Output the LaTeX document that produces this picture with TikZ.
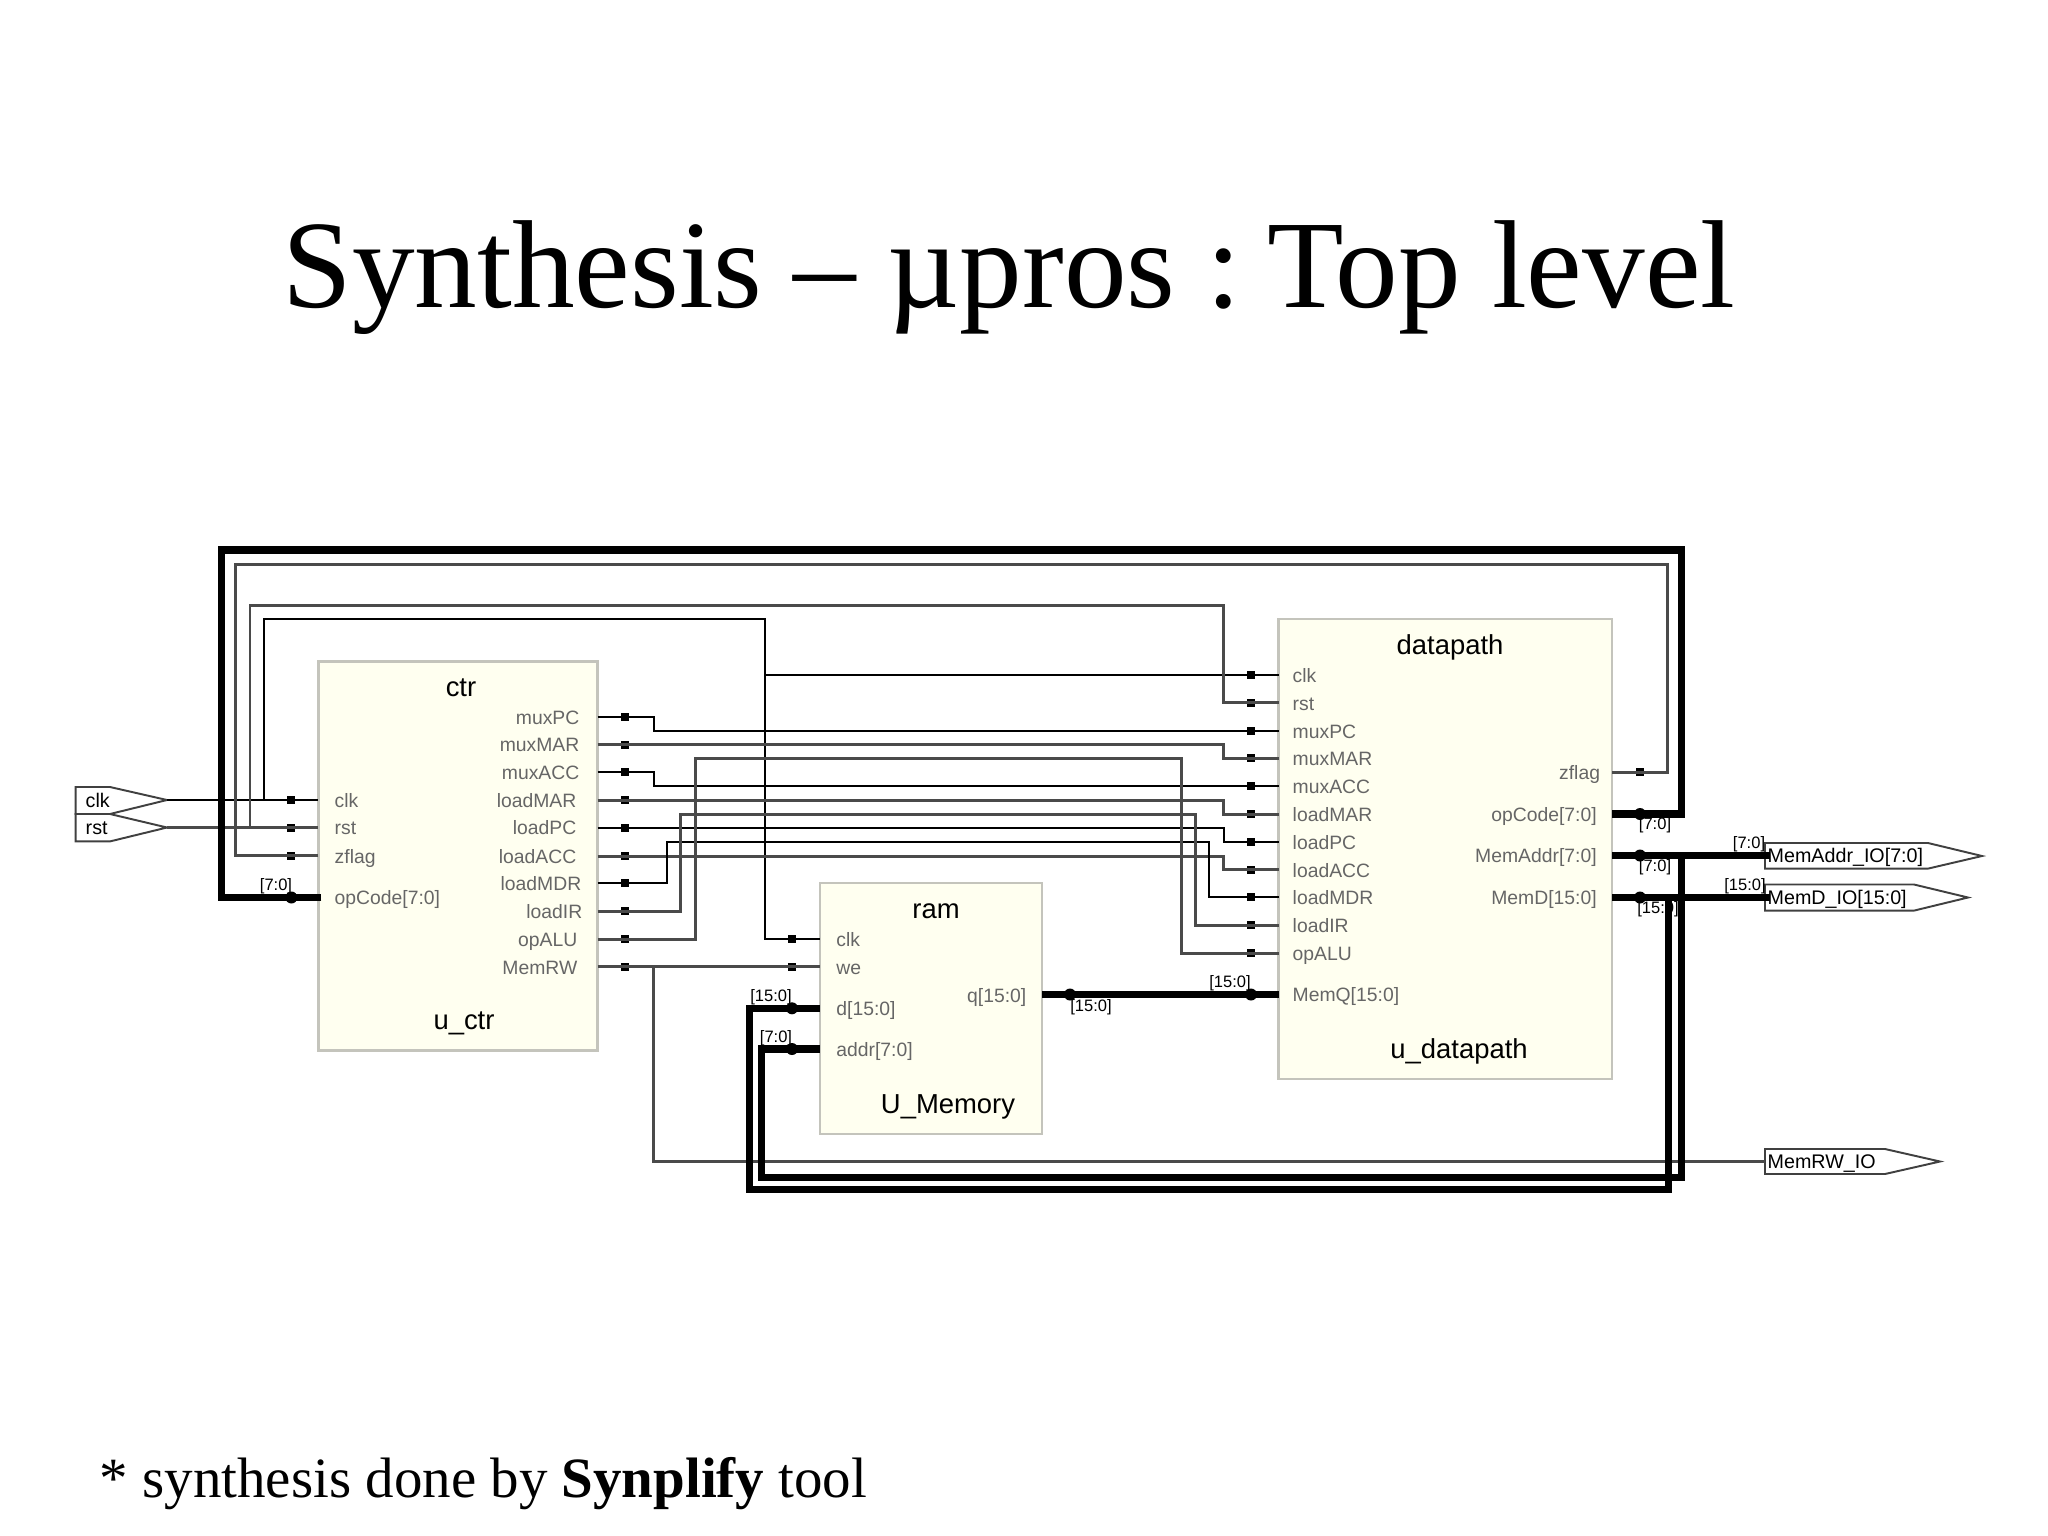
\documentclass[tikz,border=0pt]{standalone}
\usepackage{fontspec}
\usepackage{xcolor}
\usepackage{tikz}
\usetikzlibrary{positioning,calc}
\setmainfont{Liberation Serif}
\newfontfamily\netfont{Liberation Sans}
\definecolor{blockfill}{HTML}{FFFFF0}
\definecolor{blockline}{HTML}{C4C4BC}
\definecolor{pintext}{HTML}{666666}
\definecolor{softwire}{HTML}{4A4A4A}
\begin{document}
\begin{tikzpicture}[
    x=0.01cm, y=-0.01cm,
    block/.style={draw=blockline, fill=blockfill, line width=0.7pt, inner sep=0pt, outer sep=0pt},
    blocktitle/.style={font=\netfont\fontsize{7.8}{9}\selectfont, text=black, inner sep=0pt},
    pinleft/.style={font=\netfont\fontsize{5.5}{6}\selectfont, text=pintext, inner sep=0pt, anchor=west, text height=1.5ex, text depth=.4ex, yshift=0.4pt},
    pinright/.style={pinleft, anchor=east},
    portlabel/.style={font=\netfont\fontsize{5.6}{6}\selectfont, text=black, inner sep=0pt, anchor=west, text height=1.5ex, text depth=.4ex, yshift=0.4pt},
    buslabel/.style={font=\netfont\fontsize{4.7}{5}\selectfont, text=black, inner sep=0pt},
    portshape/.style={draw=black!75, line width=0.55pt, line join=miter},
    wire/.style={draw=black, line width=0.55pt},
    softw/.style={draw=softwire, line width=0.85pt},
    bus/.style={draw=black, line width=2pt, line join=miter},
    pindot/.style={fill=black, inner sep=0pt, minimum size=0.08cm},
    busdot/.style={circle, fill=black, inner sep=0pt, minimum size=0.12cm}
]
\useasboundingbox (0,0) rectangle (2048,1536);

% slide text
\node[font=\fontsize{35.6}{40}\selectfont, anchor=base, inner sep=0pt] (title) at (1009,307) {Synthesis – µpros :\kern-.04em\ T{}op level};
\node[font=\fontsize{16.2}{19}\selectfont, anchor=base west, inner sep=0pt] (note) at (99,1497) {* synthesis done by \textbf{Synplify} tool};

% blocks
\node[block, minimum width=2.79cm, minimum height=3.89cm] (ctr) at (458,856) {};
\node[block, minimum width=2.22cm, minimum height=2.51cm] (ram) at (931,1008.5) {};
\node[block, minimum width=3.334cm, minimum height=4.6cm] (datapath) at (1445.3,849) {};
\node[blocktitle] (ctrname) at (461,688) {ctr};
\node[blocktitle] (uctr) at (464,1023) {u\_ctr};
\node[blocktitle] (ramname) at (936,911) {ram};
\node[blocktitle] (umem) at (948,1107) {U\_Memory};
\node[blocktitle] (dpname) at (1450,647) {datapath};
\node[blocktitle] (udp) at (1459,1051) {u\_datapath};

% top level ports
\draw[portshape] (75.7,787) -- (110,787) -- (167,800) -- (110,814) -- (75.7,814) -- cycle;
\draw[portshape] (75.7,814) -- (110,814) -- (167,827.5) -- (110,841.4) -- (75.7,841.4) -- cycle;
\draw[portshape] (1765,843) -- (1928,843) -- (1982,856) -- (1928,868.6) -- (1765,868.6) -- cycle;
\draw[portshape] (1765,884.5) -- (1914,884.5) -- (1968,897.5) -- (1914,910.6) -- (1765,910.6) -- cycle;
\draw[portshape] (1765,1149) -- (1885,1149) -- (1940,1161.5) -- (1885,1174) -- (1765,1174) -- cycle;
\node[portlabel] (clkin) at (85,800) {clk};
\node[portlabel] (rstin) at (85,827.5) {rst};
\node[portlabel] (addrout) at (1767,855) {MemAddr\_IO[7:0]};
\node[portlabel] (dout) at (1767,897) {MemD\_IO[15:0]};
\node[portlabel] (rwout) at (1767,1161) {MemRW\_IO};
\coordinate (clktip) at (167,800);
\coordinate (rsttip) at (167,827.5);

% pins of u_ctr
\node[pinleft] (lcclk) at (334,800) {clk};
\node[pinleft] (lcrst) at (334,827.5) {rst};
\node[pinleft] (lczflag) at (334,855.7) {zflag};
\node[pinleft] (lcop) at (334,897) {opCode[7:0]};
\node[pinright] (lcmuxpc) at (580,716.7) {muxPC};
\node[pinright] (lcmuxmar) at (580,744.5) {muxMAR};
\node[pinright] (lcmuxacc) at (580,772.3) {muxACC};
\node[pinright] (lcloadmar) at (577,800) {loadMAR};
\node[pinright] (lcloadpc) at (577,827.5) {loadPC};
\node[pinright] (lcloadacc) at (577,855.7) {loadACC};
\node[pinright] (lcloadmdr) at (582,883.3) {loadMDR};
\node[pinright] (lcloadir) at (583,911.3) {loadIR};
\node[pinright] (lcopalu) at (578,939) {opALU};
\node[pinright] (lcmemrw) at (578,966.7) {MemRW};
\node[pindot] (cclk) at (291.4,800) {};
\node[pindot] (crst) at (291.4,827.5) {};
\node[pindot] (czflag) at (291.4,855.7) {};
\node[busdot] (cop) at (291.4,897.5) {};
\node[pindot] (cmuxpc) at (625.4,716.7) {};
\node[pindot] (cmuxmar) at (625.4,744.5) {};
\node[pindot] (cmuxacc) at (625.4,772.3) {};
\node[pindot] (cloadmar) at (625.4,800) {};
\node[pindot] (cloadpc) at (625.4,828) {};
\node[pindot] (cloadacc) at (625.4,856) {};
\node[pindot] (cloadmdr) at (625.4,883.3) {};
\node[pindot] (cloadir) at (625.4,911.3) {};
\node[pindot] (copalu) at (625.4,939) {};
\node[pindot] (cmemrw) at (625.4,966.7) {};

% pins of U_Memory
\node[pinleft] (lrclk) at (835.7,939) {clk};
\node[pinleft] (lrwe) at (835.7,967) {we};
\node[pinleft] (lrd) at (835.7,1008) {d[15:0]};
\node[pinleft] (lraddr) at (835.7,1049) {addr[7:0]};
\node[pinright] (lrq) at (1027,995) {q[15:0]};
\node[pindot] (rclk) at (792,939) {};
\node[pindot] (rwe) at (792,966.7) {};
\node[busdot] (rd) at (792,1008.3) {};
\node[busdot] (raddr) at (792,1049) {};
\node[busdot] (rq) at (1070,994.5) {};

% pins of u_datapath
\node[pinleft] (ldclk) at (1292,675) {clk};
\node[pinleft] (ldrst) at (1292,702.7) {rst};
\node[pinleft] (ldmuxpc) at (1292,730.7) {muxPC};
\node[pinleft] (ldmuxmar) at (1292,758.3) {muxMAR};
\node[pinleft] (ldmuxacc) at (1292,786) {muxACC};
\node[pinleft] (ldloadmar) at (1292,814) {loadMAR};
\node[pinleft] (ldloadpc) at (1292,841.7) {loadPC};
\node[pinleft] (ldloadacc) at (1292,869.7) {loadACC};
\node[pinleft] (ldloadmdr) at (1292,897.3) {loadMDR};
\node[pinleft] (ldloadir) at (1292,925.3) {loadIR};
\node[pinleft] (ldopalu) at (1292,953) {opALU};
\node[pinleft] (ldmemq) at (1292,994) {MemQ[15:0]};
\node[pinright] (ldzflag) at (1600.7,772) {zflag};
\node[pinright] (ldop) at (1597.4,814) {opCode[7:0]};
\node[pinright] (ldaddr) at (1597.4,855) {MemAddr[7:0]};
\node[pinright] (ldd) at (1597.4,897) {MemD[15:0]};
\node[pindot] (dclk) at (1251,675) {};
\node[pindot] (drst) at (1251,702.7) {};
\node[pindot] (dmuxpc) at (1251,730.7) {};
\node[pindot] (dmuxmar) at (1251,758.3) {};
\node[pindot] (dmuxacc) at (1251,786) {};
\node[pindot] (dloadmar) at (1251,814) {};
\node[pindot] (dloadpc) at (1251,841.7) {};
\node[pindot] (dloadacc) at (1251,869.7) {};
\node[pindot] (dloadmdr) at (1251,897.3) {};
\node[pindot] (dloadir) at (1251,925.3) {};
\node[pindot] (dopalu) at (1251,953) {};
\node[busdot] (dmemq) at (1251,994.5) {};
\node[pindot] (dzflag) at (1640,772) {};
\node[busdot] (dop) at (1640,814) {};
\node[busdot] (daddr) at (1640,855.5) {};
\node[busdot] (dd) at (1640,897.5) {};

% bus widths
\node[buslabel] (bcop) at (276,886) {[7:0]};
\node[buslabel] (brd) at (771,997) {[15:0]};
\node[buslabel] (braddr) at (776,1038) {[7:0]};
\node[buslabel] (brq) at (1091,1007) {[15:0]};
\node[buslabel] (bdq) at (1230,983) {[15:0]};
\node[buslabel] (bdop) at (1655,825) {[7:0]};
\node[buslabel] (bdaddr) at (1655,867) {[7:0]};
\node[buslabel] (bdd) at (1658,909) {[15:0]};
\node[buslabel] (bout1) at (1749,844) {[7:0]};
\node[buslabel] (bout2) at (1745,886) {[15:0]};

% columns and corners of the nets
\coordinate (jog) at (1223.7,0);
\coordinate (ctrjog) at (653.6,0);
\coordinate (clkcol) at (765,0);
\coordinate (clktop) at (263.6,619.3);
\coordinate (rsttop) at (250,605);
\coordinate (ztop) at (235.7,564);
\coordinate (optop) at (221.4,550);
\coordinate (zright) at (1667,564);
\coordinate (opright) at (1681.4,550);
\coordinate (addrlow) at (1681.4,1177);
\coordinate (addrleft) at (761.4,1177);
\coordinate (dlow) at (1668,1189.5);
\coordinate (dleft) at (749.6,1189.5);
\coordinate (rwlow) at (653.6,1161.5);
\coordinate (rwport) at (1765,1161.5);

% control nets
\draw[wire] (clktip) -- (ctr.west |- cclk);
\draw[softw] (rsttip) -- (ctr.west |- crst);
\draw[wire] (clktop |- cclk) -- (clktop) -- (clkcol |- clktop) -- (clkcol |- rclk) -- (ram.west |- rclk);
\draw[wire] (clkcol |- dclk) -- (datapath.west |- dclk);
\draw[softw] (rsttop |- crst) -- (rsttop) -- (jog |- rsttop) -- (jog |- drst) -- (datapath.west |- drst);
\draw[softw] (ctr.west |- czflag) -- (ztop |- czflag) -- (ztop) -- (zright) -- (zright |- dzflag) -- (datapath.east |- dzflag);
\draw[wire] (ctr.east |- cmuxpc) -- (ctrjog |- cmuxpc) -- (ctrjog |- dmuxpc) -- (datapath.west |- dmuxpc);
\draw[softw] (ctr.east |- cmuxmar) -- (jog |- cmuxmar) -- (jog |- dmuxmar) -- (datapath.west |- dmuxmar);
\draw[wire] (ctr.east |- cmuxacc) -- (ctrjog |- cmuxacc) -- (ctrjog |- dmuxacc) -- (datapath.west |- dmuxacc);
\draw[softw] (ctr.east |- cloadmar) -- (jog |- cloadmar) -- (jog |- dloadmar) -- (datapath.west |- dloadmar);
\draw[wire] (ctr.east |- cloadpc) -- (jog |- cloadpc) -- (jog |- dloadpc) -- (datapath.west |- dloadpc);
\draw[softw] (ctr.east |- cloadacc) -- (jog |- cloadacc) -- (jog |- dloadacc) -- (datapath.west |- dloadacc);
\draw[wire] (ctr.east |- cloadmdr) -- (666.8,883.3) -- (666.8,841.7) -- (1209,841.7) -- (1209,897.3) -- (datapath.west |- dloadmdr);
\draw[softw] (ctr.east |- cloadir) -- (680.7,911.3) -- (680.7,814) -- (1195,814) -- (1195,925.3) -- (datapath.west |- dloadir);
\draw[softw] (ctr.east |- copalu) -- (695,939) -- (695,758.3) -- (1181,758.3) -- (1181,953) -- (datapath.west |- dopalu);
\draw[softw] (ctr.east |- cmemrw) -- (ram.west |- rwe);
\draw[softw] (ctrjog |- cmemrw) -- (rwlow) -- (rwport);

% data buses
\draw[bus] (ctr.west |- cop) ++(3,0) -- (optop |- cop) -- (optop) -- (opright) -- (opright |- dop) -- (datapath.east |- dop);
\draw[bus] (ram.east |- rq) -- (datapath.west |- dmemq);
\draw[bus] (datapath.east |- daddr) -- (1770,855.5);
\draw[bus] (datapath.east |- dd) -- (1770,897.5);
\draw[bus] (opright |- daddr) -- (addrlow) -- (addrleft) -- (addrleft |- raddr) -- (ram.west |- raddr);
\draw[bus] (dlow |- dd) -- (dlow) -- (dleft) -- (dleft |- rd) -- (ram.west |- rd);
\end{tikzpicture}
\end{document}
